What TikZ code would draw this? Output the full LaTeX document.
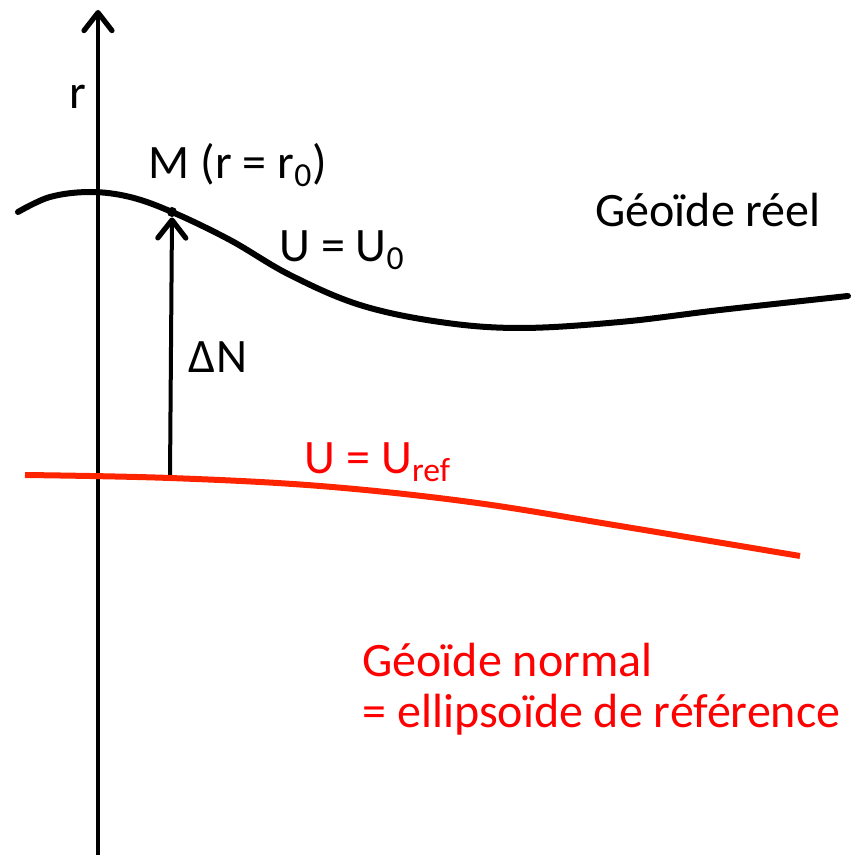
\documentclass[tikz,border=0pt]{standalone}
\usepackage{fontspec}
\setmainfont{Carlito}
\usepackage{tikz}
\usetikzlibrary{arrows.meta}
\definecolor{refred}{RGB}{255,36,0}
\definecolor{textred}{RGB}{255,0,0}
\tikzset{
  axis/.style={line width=2pt, -{Straight Barb[length=9pt, width=14pt, line width=2.6pt, round]}},
  geoid/.style={line width=3pt, line cap=round},
  ellipsoid/.style={line width=3pt, draw=refred},
  lbl/.style={font=\fontsize{24}{28}\selectfont, inner sep=0pt},
  redlbl/.style={lbl, text=textred},
}

\begin{document}
\begin{tikzpicture}[x=0.5pt, y=-0.5pt]
  \useasboundingbox (0,0) rectangle (859,855);

  % Vertical r axis
  \coordinate (axbot) at (98,855);
  \coordinate (axtop) at (98,10);
  \draw[axis] (axbot) -- (axtop);
  \node[lbl] (rlbl) at (78,97) {r};

  % Real geoid U = U0
  \draw[geoid] plot[smooth, tension=0.6] coordinates {(18,212) (50,197) (90,192) (130,197) (172,212)
    (230,240) (290,275) (360,305) (440,322) (520,328) (620,322) (720,310) (848,296)};
  \node[lbl] (geolbl) at (708,210) {Géoïde réel};
  \node[lbl] (u0) at (342,250) {U = U\textsubscript{0}};

  % Point M and height anomaly
  \coordinate (base) at (170,477);
  \node[circle, fill, inner sep=0pt, minimum size=5pt] (M) at (172,212) {};
  \draw[axis] (base) -- (M.south);
  \node[lbl] (mlbl) at (238,165) {M (r = r\textsubscript{0})};
  \node[lbl] (dn) at (218,357) {ΔN};

  % Reference ellipsoid U = Uref
  \draw[ellipsoid] plot[smooth, tension=0.6] coordinates {(25,475) (170,478) (320,486)
    (470,502) (620,526) (800,556)};
  \node[redlbl] (uref) at (378,462) {U = U\textsubscript{ref}};
  \node[redlbl, anchor=west] (norm) at (362,660) {Géoïde normal};
  \node[redlbl, anchor=west] (ellip) at (362,715) {= ellipsoïde de référence};
\end{tikzpicture}
\end{document}
